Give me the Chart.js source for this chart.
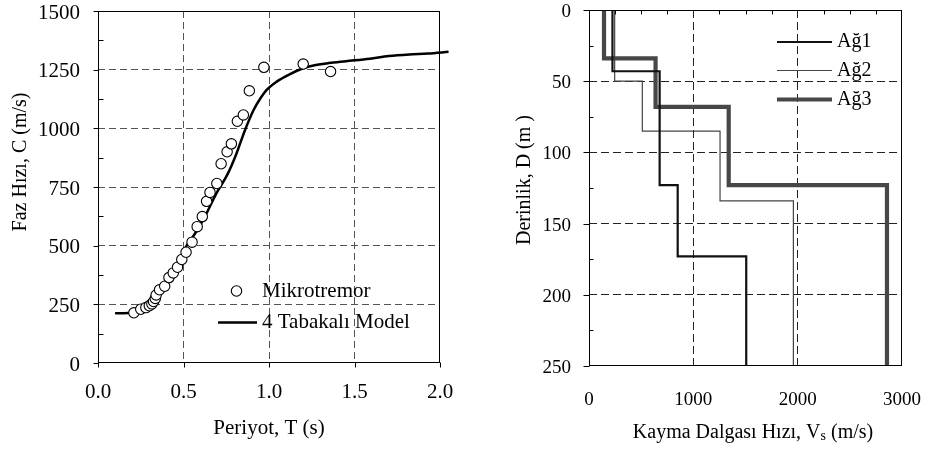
<!DOCTYPE html>
<html><head><meta charset="utf-8">
<script src="https://cdn.jsdelivr.net/npm/chart.js@4.4.1/dist/chart.umd.min.js"></script>
<style>
html,body{margin:0;padding:0;background:#fff;width:925px;height:450px;overflow:hidden;}
#c1{position:absolute;left:0;top:0;}
#c2{position:absolute;left:470px;top:0;}
</style></head><body>
<canvas id="c1" width="470" height="450"></canvas>
<canvas id="c2" width="455" height="450"></canvas>
<script>
// ---------- Left chart: dispersion curve ----------
const mikroPeriyot = [0.21, 0.25, 0.28, 0.30, 0.315, 0.325, 0.335, 0.34, 0.36, 0.39, 0.415, 0.44, 0.465, 0.49, 0.515, 0.55, 0.58, 0.61, 0.635, 0.655, 0.695, 0.72, 0.755, 0.78, 0.815, 0.85, 0.885, 0.97, 1.20, 1.36];
const mikroHiz = [214, 229, 236, 244, 252, 262, 275, 290, 312, 327, 364, 384, 408, 441, 472, 515, 581, 624, 689, 727, 765, 849, 900, 934, 1030, 1057, 1160, 1260, 1274, 1242];
const modelPeriyot = [0.10, 0.15, 0.20, 0.25, 0.28, 0.31, 0.34, 0.37, 0.40, 0.43, 0.46, 0.49, 0.52, 0.555, 0.60, 0.635, 0.69, 0.75, 0.78, 0.81, 0.86, 0.91, 0.95, 0.985, 1.045, 1.12, 1.20, 1.26, 1.35, 1.45, 1.59, 1.70, 1.82, 1.93, 2.05];
const modelHiz = [212, 212, 214, 222, 232, 250, 276, 306, 340, 378, 420, 462, 502, 538, 590, 638, 720, 794, 840, 893, 993, 1078, 1128, 1163, 1199, 1230, 1256, 1268, 1278, 1286, 1297, 1308, 1315, 1319, 1326];
const periyotTicks = [0, 0.5, 1.0, 1.5, 2.0];
const hizTicks = [0, 250, 500, 750, 1000, 1250, 1500];
const leftLabels = ['Mikrotremor', '4 Tabakalı Model'];

// ---------- Right chart: Vs profiles ----------
const agLabels = ['Ağ1', 'Ağ2', 'Ağ3'];
const ag1Vs = [225, 677, 850, 1507];
const ag1Taban = [43, 123, 173, 250];
const ag2Vs = [246, 511, 1256, 1959];
const ag2Taban = [50, 85, 134, 250];
const ag3Vs = [144, 638, 1339, 2856];
const ag3Taban = [34, 68, 123, 250];
const vsTicks = [0, 1000, 2000, 3000];
const derinlikTicks = [0, 50, 100, 150, 200, 250];

const SERIF = '"Liberation Serif", "Times New Roman", serif';
Chart.defaults.font.family = SERIF;
Chart.defaults.color = '#000';

function pts(xs, ys) { return xs.map((x, i) => ({x: x, y: ys[i]})); }
function stepProfile(vs, bottoms) {
  const out = []; let top = 0;
  vs.forEach((v, i) => { out.push({x: v, y: top}); out.push({x: v, y: bottoms[i]}); top = bottoms[i]; });
  return out;
}
function minorValues(ticks, div) {
  const out = [];
  for (let i = 0; i < ticks.length - 1; i++) {
    const a = ticks[i].value, b = ticks[i + 1].value;
    for (let k = 1; k < div; k++) out.push(a + (b - a) * k / div);
  }
  return out;
}

const framePlugin = {
  id: 'frame',
  afterDatasetsDraw(chart, args, o) {
    const {ctx, chartArea: a, scales} = chart;
    ctx.save();
    ctx.strokeStyle = '#000';
    ctx.lineWidth = 1;
    const L = Math.round(a.left) + 0.5, R = Math.round(a.right) - 0.5;
    const T = Math.round(a.top) + 0.5, B = Math.round(a.bottom) - 0.5;
    ctx.strokeRect(L, T, R - L, B - T);
    (o.ticks || []).forEach(t => {
      const sc = scales[t.axis];
      const vals = t.div ? minorValues(sc.ticks, t.div) : sc.ticks.map(k => k.value);
      vals.forEach(v => {
        const p = Math.round(sc.getPixelForValue(v)) + 0.5;
        ctx.beginPath();
        if (t.edge === 'left') { ctx.moveTo(L, p); ctx.lineTo(L + t.len, p); }
        else if (t.edge === 'right') { ctx.moveTo(R, p); ctx.lineTo(R - t.len, p); }
        else if (t.edge === 'top') { ctx.moveTo(p, T); ctx.lineTo(p, T + t.len); }
        else { ctx.moveTo(p, B); ctx.lineTo(p, B - t.len); }
        ctx.stroke();
      });
    });
    ctx.restore();
  },
  afterDraw(chart, args, o) {
    const ctx = chart.ctx;
    ctx.save();
    ctx.fillStyle = '#000';
    ctx.textBaseline = 'middle';
    (o.titles || []).forEach(t => {
      ctx.save();
      ctx.translate(t.x, t.y);
      if (t.rotate) ctx.rotate(t.rotate);
      let total = 0;
      t.parts.forEach(p => { ctx.font = p.size + 'px ' + SERIF; total += ctx.measureText(p.text).width; });
      let x = -total / 2;
      ctx.textAlign = 'left';
      t.parts.forEach(p => {
        ctx.font = p.size + 'px ' + SERIF;
        ctx.fillText(p.text, x, p.dy || 0);
        x += ctx.measureText(p.text).width;
      });
      ctx.restore();
    });
    (o.legend || []).forEach(it => {
      const ds = chart.data.datasets[it.dataset];
      if (it.marker) {
        ctx.beginPath();
        ctx.arc(it.marker, it.y, ds.pointRadius, 0, Math.PI * 2);
        ctx.fillStyle = ds.pointBackgroundColor; ctx.fill();
        ctx.lineWidth = ds.pointBorderWidth; ctx.strokeStyle = ds.pointBorderColor; ctx.stroke();
      } else {
        ctx.beginPath();
        ctx.moveTo(it.x1, it.y); ctx.lineTo(it.x2, it.y);
        ctx.lineWidth = ds.borderWidth; ctx.strokeStyle = ds.borderColor; ctx.stroke();
      }
      ctx.fillStyle = '#000';
      ctx.textAlign = 'left';
      ctx.font = o.legendSize + 'px ' + SERIF;
      ctx.fillText(ds.label, it.textX, it.y + (it.dy || 0));
    });
    ctx.restore();
  }
};

// ---------------- Left chart ----------------
new Chart(document.getElementById('c1'), {
  type: 'scatter',
  data: {
    datasets: [
      { label: leftLabels[0], data: pts(mikroPeriyot, mikroHiz), showLine: false,
        pointRadius: 5.2, pointHoverRadius: 5.2, pointBackgroundColor: '#fff', pointBorderColor: '#000', pointBorderWidth: 1.1 },
      { label: leftLabels[1], type: 'line', data: pts(modelPeriyot, modelHiz), showLine: true,
        borderColor: '#000', borderWidth: 2.5, pointRadius: 0, cubicInterpolationMode: 'monotone', clip: false, fill: false }
    ]
  },
  options: {
    responsive: false, animation: false, devicePixelRatio: 1,
    layout: { padding: { left: 0, top: 11, right: 30, bottom: 0 } },
    plugins: {
      legend: { display: false }, tooltip: { enabled: false },
      frame: {
        ticks: [
          { axis: 'y', edge: 'left', len: -5 },
          { axis: 'y', edge: 'left', len: 5, div: 2 },
          { axis: 'x', edge: 'bottom', len: -5 }
        ],
        titles: [
          { x: 21, y: 162, rotate: -Math.PI / 2, parts: [{ text: 'Faz Hızı, C (m/s)', size: 20 }] }
        ],
        legendSize: 21,
        legend: [
          { dataset: 0, marker: 236.5, y: 291, textX: 262 },
          { dataset: 1, x1: 218, x2: 257, y: 322.5, textX: 262 }
        ]
      }
    },
    scales: {
      x: {
        type: 'linear', min: 0, max: 2,
        afterBuildTicks: s => { s.ticks = periyotTicks.map(v => ({ value: v })); },
        afterFit: s => { s.height = 87; s.paddingLeft = 0; s.paddingRight = 0; },
        ticks: { font: { size: 21 }, color: '#000', padding: 17, callback: v => Number(v).toFixed(1), autoSkip: false, maxRotation: 0 },
        grid: { drawTicks: false, lineWidth: 1, color: c => (c.tick && c.tick.value > 0 && c.tick.value < 2) ? '#555' : 'rgba(0,0,0,0)' },
        border: { display: false, dash: [7, 4] },
        title: { display: true, text: 'Periyot, T (s)', font: { size: 21 }, color: '#000', padding: { top: 0, bottom: 9 } }
      },
      y: {
        type: 'linear', min: 0, max: 1500,
        afterBuildTicks: s => { s.ticks = hizTicks.map(v => ({ value: v })); },
        afterFit: s => { s.width = 98; s.paddingTop = 0; s.paddingBottom = 0; },
        ticks: { font: { size: 21 }, color: '#000', padding: 18, labelOffset: 2, autoSkip: false, callback: v => String(v) },
        grid: { drawTicks: false, lineWidth: 1, color: c => (c.tick && c.tick.value > 0 && c.tick.value < 1500) ? '#555' : 'rgba(0,0,0,0)' },
        border: { display: false, dash: [7, 4] }
      }
    }
  },
  plugins: [framePlugin]
});

// ---------------- Right chart ----------------
new Chart(document.getElementById('c2'), {
  type: 'scatter',
  data: {
    datasets: [
      { label: agLabels[0], data: stepProfile(ag1Vs, ag1Taban), showLine: true, borderColor: '#111', borderWidth: 2.2,
        pointRadius: 0, tension: 0, fill: false, borderJoinStyle: 'miter' },
      { label: agLabels[1], data: stepProfile(ag2Vs, ag2Taban), showLine: true, borderColor: '#444', borderWidth: 1.2,
        pointRadius: 0, tension: 0, fill: false, borderJoinStyle: 'miter' },
      { label: agLabels[2], data: stepProfile(ag3Vs, ag3Taban), showLine: true, borderColor: '#474747', borderWidth: 4.2,
        pointRadius: 0, tension: 0, fill: false, borderJoinStyle: 'miter' }
    ]
  },
  options: {
    responsive: false, animation: false, devicePixelRatio: 1,
    layout: { padding: { left: 0, top: 10, right: 23, bottom: 0 } },
    plugins: {
      legend: { display: false }, tooltip: { enabled: false },
      frame: {
        ticks: [
          { axis: 'y', edge: 'left', len: -6 },
          { axis: 'y', edge: 'left', len: 4, div: 2 },
          { axis: 'x', edge: 'top', len: 4, div: 4 }
        ],
        titles: [
          { x: 55, y: 180, rotate: -Math.PI / 2, parts: [{ text: 'Derinlik, D (m )', size: 20 }] },
          { x: 283, y: 433, parts: [{ text: 'Kayma Dalgası Hızı, V', size: 20 }, { text: 's', size: 14, dy: 3 }, { text: ' (m/s)', size: 20 }] }
        ],
        legendSize: 20,
        legend: [
          { dataset: 0, x1: 307, x2: 362, y: 42, textX: 367 },
          { dataset: 1, x1: 307, x2: 362, y: 70.5, textX: 367 },
          { dataset: 2, x1: 307, x2: 362, y: 99.5, textX: 367 }
        ]
      }
    },
    scales: {
      x: {
        type: 'linear', min: 0, max: 3000,
        afterBuildTicks: s => { s.ticks = vsTicks.map(v => ({ value: v })); },
        afterFit: s => { s.height = 84; s.paddingLeft = 0; s.paddingRight = 0; },
        ticks: { font: { size: 19 }, color: '#000', padding: 23, autoSkip: false, maxRotation: 0, callback: v => String(v) },
        grid: { drawTicks: false, lineWidth: 1, color: c => (c.tick && c.tick.value > 0 && c.tick.value < 3000) ? '#222' : 'rgba(0,0,0,0)' },
        border: { display: false, dash: [8, 4] },
        title: { display: false }
      },
      y: {
        type: 'linear', min: 0, max: 250, reverse: true,
        afterBuildTicks: s => { s.ticks = derinlikTicks.map(v => ({ value: v })); },
        afterFit: s => { s.width = 119; s.paddingTop = 0; s.paddingBottom = 0; },
        ticks: { font: { size: 19 }, color: '#000', padding: 18, labelOffset: 2, autoSkip: false, callback: v => String(v) },
        grid: { drawTicks: false, lineWidth: 1, color: c => (c.tick && c.tick.value > 0 && c.tick.value < 250) ? '#222' : 'rgba(0,0,0,0)' },
        border: { display: false, dash: [8, 4] }
      }
    }
  },
  plugins: [framePlugin]
});
</script>
</body></html>
